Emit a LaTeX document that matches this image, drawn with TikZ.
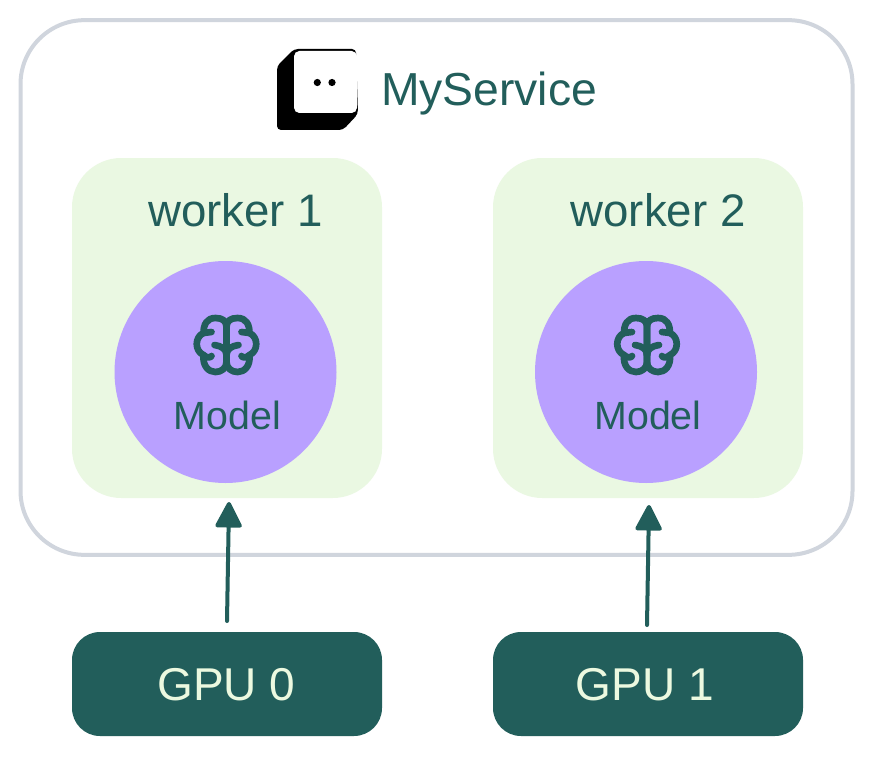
\documentclass[tikz,border=0pt]{standalone}
\usepackage{fontspec}
\setmainfont{Liberation Sans}
\usetikzlibrary{arrows.meta}
\definecolor{teal}{HTML}{225E5B}
\definecolor{mint}{HTML}{EAF8E2}
\definecolor{lav}{HTML}{B9A0FF}
\definecolor{edge}{HTML}{D0D5DD}
\definecolor{pale}{HTML}{ECF9E0}
\newcommand{\fs}[1]{\fontsize{#1}{#1}\selectfont}
\tikzset{
  x=0.75pt,y=-0.75pt,
  service/.style={draw=edge,line width=3pt,fill=white,rounded corners=48pt,minimum width=624pt,minimum height=401pt,inner sep=0pt},
  workerbox/.style={fill=mint,rounded corners=37pt,minimum width=232.5pt,minimum height=255pt,inner sep=0pt},
  modelcircle/.style={circle,fill=lav,minimum size=166.5pt,inner sep=0pt},
  gpubox/.style={fill=teal,rounded corners=21pt,minimum width=232.5pt,minimum height=78pt,inner sep=0pt},
  label/.style={text=teal,inner sep=0pt,anchor=base},
  gpulabel/.style={text=pale,inner sep=0pt,anchor=base,font=\fs{34.5}},
  feed/.style={draw=teal,line width=3pt,line cap=round,-{Triangle[length=21pt,width=21pt,round]}},
  brainline/.style={draw=teal,line width=5pt,line cap=round,line join=round},
}
\newcommand{\brainhalf}{%
  \draw[brainline] (0,-18) .. controls (0,-24) and (4,-27) .. (11,-27)
     .. controls (20,-27) and (23,-20) .. (23,-12)
     .. controls (32,-8) and (32,6) .. (23,10)
     .. controls (24,21) and (18,27) .. (11,27)
     .. controls (5,27) and (0,23) .. (0,17) -- (0,-18);
  \draw[brainline] (23,-12) -- (15,-13);
  \draw[brainline] (12,0) .. controls (5,1) and (0,4) .. (0,10);
  \draw[brainline] (23,10) .. controls (20,13) and (16,13) .. (15,11);
}
\newcommand{\brain}[2]{%
  \begin{scope}[shift={(#1,#2)}]\brainhalf\end{scope}
  \begin{scope}[shift={(#1,#2)},xscale=-1]\brainhalf\end{scope}
}
\begin{document}
\begin{tikzpicture}
\useasboundingbox (0,0) rectangle (873,756);
\fill[white] (0,0) rectangle (873,756);
\node[service] (svc) at (436.5,287.5) {};
\node[workerbox] (w1) at (227,328) {};
\node[workerbox] (w2) at (648,328) {};
\node[modelcircle] (m1) at (225.5,372) {};
\node[modelcircle] (m2) at (646,372) {};
\node[gpubox] (g0) at (227,684) {};
\node[gpubox] (g1) at (648,684) {};
\node[gpulabel] (g0t) at (226.5,700) {GPU 0};
\node[gpulabel] (g1t) at (645,700) {GPU 1};
% cube logo
\fill[black,rounded corners=3pt] (277,66) -- (294,49) -- (356,49) -- (358,114) -- (343,130) -- (277,130) -- cycle;
\fill[white,rounded corners=4pt] (294,51) rectangle (357,113);
\fill[black] (317.3,82.5) circle (3.6);
\fill[black] (332,82.5) circle (3.6);
\node[label,font=\fs{34.7}] (title) at (489,106) {MyService};
\node[label,font=\fs{34.2}] (l1) at (235.5,226) {worker 1};
\node[label,font=\fs{34.2}] (l2) at (658,226) {worker 2};
\node[label,font=\fs{29.5}] (t1) at (227.5,429) {Model};
\node[label,font=\fs{29.5}] (t2) at (648,429) {Model};
\brain{226.5}{345}
\brain{647}{345}
\coordinate (a1) at (227,621);
\coordinate (a2) at (647,625);
\coordinate (b1) at (229,502);
\coordinate (b2) at (649,505);
\draw[feed] (a1) -- (b1);
\draw[feed] (a2) -- (b2);
\end{tikzpicture}
\end{document}
